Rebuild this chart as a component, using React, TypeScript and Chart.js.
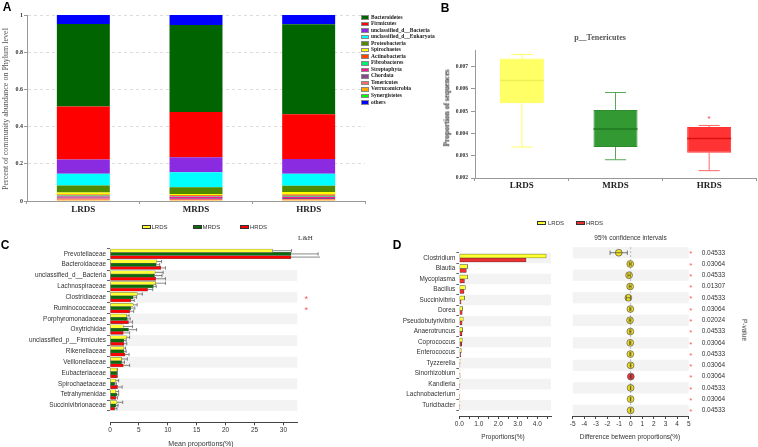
import React, { useEffect, useRef } from 'react';
import { Chart, registerables } from 'chart.js';
Chart.register(...registerables);

const SERIF = '"Liberation Serif", "Times New Roman", serif';
const SANS = '"Liberation Sans", Arial, sans-serif';

// ---------------- Panel A: phylum stacked bars ----------------
const phylumGroups = ['LRDS', 'MRDS', 'HRDS'];
const phylumNames = [
  'Bacteroidetes', 'Firmicutes', 'unclassified_d__Bacteria', 'unclassified_d__Eukaryota',
  'Proteobacteria', 'Spirochaetes', 'Actinobacteria', 'Fibrobacteres', 'Streptophyta',
  'Chordata', 'Tenericutes', 'Verrucomicrobia', 'Synergistetes', 'others',
];
const phylumColors = [
  '#006400', '#ff0000', '#8a2be2', '#00ffff', '#4f8a00', '#ffff00', '#ff4500',
  '#00ee76', '#ff1493', '#8b4789', '#ff6a6a', '#ffa500', '#00ff00', '#0000ff',
];
const bacteroidetes = [0.443, 0.468, 0.484];
const firmicutes = [0.285, 0.243, 0.24];
const unclBacteria = [0.077, 0.081, 0.079];
const unclEukaryota = [0.063, 0.08, 0.065];
const proteobacteria = [0.038, 0.036, 0.034];
const spirochaetes = [0.01, 0.007, 0.013];
const actinobacteria = [0.006, 0.005, 0.007];
const fibrobacteres = [0.005, 0.004, 0.005];
const streptophyta = [0.006, 0.007, 0.007];
const chordata = [0.005, 0.005, 0.005];
const tenericutesAbund = [0.0064, 0.0042, 0.0038];
const verrucomicrobia = [0.004, 0.003, 0.004];
const synergistetes = [0.003, 0.003, 0.003];
const othersPhyla = [0.048, 0.054, 0.05];
const phylumValues = [
  bacteroidetes, firmicutes, unclBacteria, unclEukaryota, proteobacteria, spirochaetes,
  actinobacteria, fibrobacteres, streptophyta, chordata, tenericutesAbund, verrucomicrobia,
  synergistetes, othersPhyla,
];
const phylumStackOrder = [12, 11, 10, 9, 8, 7, 6, 5, 4, 3, 2, 1, 0, 13];
const phylumTicks = [0, 0.2, 0.4, 0.6, 0.8, 1];

// ---------------- Panel B: Tenericutes box plot ----------------
const boxGroups = ['LRDS', 'MRDS', 'HRDS'];
const boxMin = [0.00339, 0.00282, 0.00233];
const boxQ1 = [0.00536, 0.00339, 0.00313];
const boxMedian = [0.00638, 0.0042, 0.00378];
const boxQ3 = [0.00737, 0.00506, 0.00429];
const boxMax = [0.00755, 0.00584, 0.00436];
const boxOutliers = [[], [], [0.00474]];
const boxTicks = [0.002, 0.003, 0.004, 0.005, 0.006, 0.007];
const boxFill = ['#ffff66', '#339933', '#ff3333'];
const boxBorder = ['#ffff44', '#2e8b2e', '#ff3030'];
const boxWhisker = ['#ffff66', '#55a855', '#ff6666'];
const boxMedianColor = ['#eeee55', '#1f7a1f', '#dd1010'];

// ---------------- Panel C: family mean proportions ----------------
const families = [
  'Prevotellaceae', 'Bacteroidaceae', 'unclassified_d__Bacteria', 'Lachnospiraceae',
  'Clostridiaceae', 'Ruminococcaceae', 'Porphyromonadaceae', 'Oxytrichidae',
  'unclassified_p__Firmicutes', 'Rikenellaceae', 'Veillonellaceae', 'Eubacteriaceae',
  'Spirochaetaceae', 'Tetrahymenidae', 'Succinivibrionaceae',
];
const famLRDS = [28.1, 8.1, 7.8, 7.9, 4.7, 4.0, 2.9, 2.3, 2.9, 2.4, 2.0, 1.2, 1.0, 1.0, 1.2];
const famLRDSErr = [31.4, 8.9, 9.2, 9.6, 5.6, 4.7, 3.3, 3.9, 3.4, 2.7, 3.0, 1.3, 1.5, 1.5, 2.2];
const famMRDS = [31.3, 8.0, 7.7, 7.5, 4.0, 3.6, 3.0, 3.2, 2.4, 2.4, 2.0, 1.2, 0.8, 1.2, 1.0];
const famMRDSErr = [36.0, 8.6, 9.0, 8.0, 4.6, 4.3, 3.5, 4.6, 2.8, 2.8, 2.5, 1.3, 1.1, 1.5, 1.4];
const famHRDS = [31.3, 8.8, 7.9, 6.5, 3.6, 3.4, 3.2, 2.3, 2.4, 2.6, 2.3, 1.2, 1.3, 1.0, 0.8];
const famHRDSErr = [37.2, 9.6, 9.6, 7.4, 4.2, 4.1, 3.9, 3.4, 2.9, 3.3, 3.4, 1.3, 2.1, 1.3, 1.2];
const famStars = ['', '', '', '', '*', '*', '', '', '', '', '', '', '', '', ''];
const famShaded = [2, 4, 6, 8, 10, 12, 14];
const famTicks = [0, 5, 10, 15, 20, 25, 30];

// ---------------- Panel D: genus LRDS vs HRDS ----------------
const genera = [
  'Clostridium', 'Blautia', 'Mycoplasma', 'Bacillus', 'Succinivibrio', 'Dorea',
  'Pseudobutyrivibrio', 'Anaerotruncus', 'Coprococcus', 'Enterococcus', 'Tyzzerella',
  'Sinorhizobium', 'Kandleria', 'Lachnobacterium', 'Turicibacter',
];
const genLRDS = [4.45, 0.43, 0.42, 0.31, 0.27, 0.17, 0.2, 0.17, 0.15, 0.1, 0.04, 0.03, 0.03, 0.03, 0.03];
const genHRDS = [3.42, 0.36, 0.26, 0.24, 0.09, 0.15, 0.14, 0.14, 0.12, 0.07, 0.03, 0.04, 0.02, 0.02, 0.02];
const genDiff = [-1.03, -0.04, -0.14, -0.05, -0.2, -0.03, -0.06, -0.03, -0.04, -0.03, -0.01, 0.01, -0.01, -0.01, -0.01];
const genCILow = [-1.78, -0.12, -0.24, -0.13, -0.38, -0.08, -0.13, -0.08, -0.09, -0.07, -0.04, -0.02, -0.03, -0.03, -0.03];
const genCIHigh = [-0.29, 0.04, -0.04, 0.03, -0.02, 0.02, 0.01, 0.02, 0.01, 0.01, 0.02, 0.04, 0.01, 0.01, 0.01];
const genPointColor = ['#f0e020', '#f0e020', '#f0e020', '#f0e020', '#f0e020', '#f0e020', '#f0e020', '#f0e020', '#f0e020', '#f0e020', '#f0e020', '#ee3030', '#f0e020', '#f0e020', '#f0e020'];
const genPValues = ['0.04533', '0.03064', '0.04533', '0.01307', '0.04533', '0.03064', '0.02024', '0.04533', '0.03064', '0.04533', '0.03064', '0.03064', '0.04533', '0.03064', '0.04533'];
const genShaded = [0, 2, 4, 6, 8, 10, 12, 14];
const propTicks = [0, 0.5, 1, 1.5, 2, 2.5, 3, 3.5, 4, 4.5];
const diffTicks = [-5, -4, -3, -2, -1, 0, 1, 2, 3, 4, 5];

// ---------------- helpers ----------------
const shadePlugin = (rows: number[], color: string) => ({
  id: 'shade',
  beforeDraw(chart: any) {
    const { ctx, chartArea } = chart;
    const ys = chart.scales.y;
    ctx.save();
    ctx.fillStyle = color;
    rows.forEach((r) => {
      const a = ys.getPixelForValue(r - 0.5);
      const b = ys.getPixelForValue(r + 0.5);
      ctx.fillRect(chartArea.left, Math.min(a, b), chartArea.right - chartArea.left, Math.abs(b - a));
    });
    ctx.restore();
  },
});

function ChartCanvas({ left, top, width, height, config }: any) {
  const ref = useRef<HTMLCanvasElement>(null);
  useEffect(() => {
    const chart = new Chart(ref.current as HTMLCanvasElement, config());
    return () => chart.destroy();
  }, []);
  return (
    <canvas
      ref={ref}
      width={width}
      height={height}
      style={{ position: 'absolute', left, top, width, height }}
    />
  );
}

function Txt({ x, y, children, size = 6.5, family = SANS, weight = 'normal', color = '#333', rotate = 0, align = 'center' }: any) {
  const tx = align === 'center' ? '-50%' : align === 'right' ? '-100%' : '0';
  return (
    <div
      style={{
        position: 'absolute', left: x, top: y, transform: `translate(${tx}, -50%) rotate(${rotate}deg)`,
        fontSize: size, fontFamily: family, fontWeight: weight, color, whiteSpace: 'nowrap', lineHeight: 1,
      }}
    >
      {children}
    </div>
  );
}

function Box({ x, y, w, h, color, border = '#333' }: any) {
  return (
    <div style={{ position: 'absolute', left: x, top: y, width: w, height: h, background: color, border: `0.6px solid ${border}`, boxSizing: 'border-box' }} />
  );
}

// ---------------- configs ----------------
const configA = () => ({
  type: 'bar',
  data: {
    labels: phylumGroups,
    datasets: phylumStackOrder.map((k) => ({
      label: phylumNames[k],
      data: phylumValues[k],
      backgroundColor: phylumColors[k],
      borderWidth: 0,
      categoryPercentage: 1,
      barPercentage: 0.47,
    })),
  },
  options: {
    responsive: false, animation: false, devicePixelRatio: 1,
    layout: { padding: { left: 0, top: 15, right: 5, bottom: 0 } },
    plugins: { legend: { display: false }, tooltip: { enabled: false } },
    scales: {
      x: {
        stacked: true,
        grid: { display: true, drawOnChartArea: false, offset: true, tickLength: 3, color: '#999' },
        border: { color: '#999' },
        ticks: { font: { family: SERIF, size: 9, weight: 'bold' }, color: '#222', padding: 0, maxRotation: 0 },
        afterFit: (s: any) => { s.height = 14; },
      },
      y: {
        stacked: true, min: 0, max: 1,
        afterBuildTicks: (s: any) => { s.ticks = phylumTicks.map((v) => ({ value: v })); },
        ticks: {
          font: { family: SERIF, size: 6, weight: 'bold' }, color: '#333', padding: 1,
          callback: (v: number) => (v === 0 || v === 1 ? String(v) : v.toFixed(1)),
        },
        grid: { color: '#dddddd', tickLength: 3, tickColor: '#999' },
        border: { color: '#999', dash: [3, 3] },
        afterFit: (s: any) => { s.width = 27; },
      },
    },
  },
});

const boxPlugin = {
  id: 'boxWhiskers',
  afterDatasetsDraw(chart: any) {
    const { ctx } = chart;
    const ys = chart.scales.y;
    const meta = chart.getDatasetMeta(0);
    meta.data.forEach((el: any, i: number) => {
      const x = el.x;
      const half = el.width / 2;
      const cap = half * 0.48;
      const pMin = ys.getPixelForValue(boxMin[i]);
      const pMax = ys.getPixelForValue(boxMax[i]);
      const pQ1 = ys.getPixelForValue(boxQ1[i]);
      const pQ3 = ys.getPixelForValue(boxQ3[i]);
      const pMed = ys.getPixelForValue(boxMedian[i]);
      ctx.save();
      ctx.strokeStyle = boxWhisker[i];
      ctx.lineWidth = 1;
      ctx.beginPath();
      ctx.moveTo(x, pQ3); ctx.lineTo(x, pMax);
      ctx.moveTo(x - cap, pMax); ctx.lineTo(x + cap, pMax);
      ctx.moveTo(x, pQ1); ctx.lineTo(x, pMin);
      ctx.moveTo(x - cap, pMin); ctx.lineTo(x + cap, pMin);
      ctx.stroke();
      ctx.strokeStyle = boxMedianColor[i];
      ctx.lineWidth = 1.5;
      ctx.beginPath();
      ctx.moveTo(x - half, pMed); ctx.lineTo(x + half, pMed);
      ctx.stroke();
      ctx.fillStyle = boxWhisker[i];
      ctx.font = `bold 8px ${SANS}`;
      ctx.textAlign = 'center';
      ctx.textBaseline = 'middle';
      boxOutliers[i].forEach((o: number) => {
        ctx.fillText('*', x, ys.getPixelForValue(o) + 1.5);
      });
      ctx.restore();
    });
  },
};

const configB = () => ({
  type: 'bar',
  data: {
    labels: boxGroups,
    datasets: [{
      data: boxQ1.map((q, i) => [q, boxQ3[i]]),
      backgroundColor: boxFill,
      borderColor: boxBorder,
      borderWidth: 1,
      borderSkipped: false,
      categoryPercentage: 1,
      barPercentage: 0.47,
    }],
  },
  plugins: [boxPlugin],
  options: {
    responsive: false, animation: false, devicePixelRatio: 1,
    layout: { padding: { left: 0, top: 20, right: 2, bottom: 0 } },
    plugins: { legend: { display: false }, tooltip: { enabled: false } },
    scales: {
      x: {
        grid: { display: true, drawOnChartArea: false, offset: true, tickLength: 3, color: '#999' },
        border: { color: '#999' },
        ticks: { font: { family: SERIF, size: 9, weight: 'bold' }, color: '#222', padding: -1, maxRotation: 0 },
        afterFit: (s: any) => { s.height = 22; },
      },
      y: {
        min: 0.002, max: 0.00775,
        afterBuildTicks: (s: any) => { s.ticks = boxTicks.map((v) => ({ value: v })); },
        ticks: {
          font: { family: SERIF, size: 5.5, weight: 'bold' }, color: '#333', padding: 3,
          callback: (v: number) => v.toFixed(3),
        },
        grid: { drawOnChartArea: false, tickLength: 4, color: '#999' },
        border: { color: '#999' },
        afterFit: (s: any) => { s.width = 35; },
      },
    },
  },
});

const errPlugin = {
  id: 'errBars',
  afterDatasetsDraw(chart: any) {
    const { ctx } = chart;
    const xs = chart.scales.x;
    chart.data.datasets.forEach((ds: any, di: number) => {
      if (!ds.errEnds) return;
      const meta = chart.getDatasetMeta(di);
      meta.data.forEach((el: any, i: number) => {
        const xe = xs.getPixelForValue(ds.errEnds[i]);
        ctx.save();
        ctx.strokeStyle = '#555';
        ctx.lineWidth = 0.7;
        ctx.beginPath();
        ctx.moveTo(el.x, el.y); ctx.lineTo(xe, el.y);
        ctx.moveTo(xe, el.y - 1.7); ctx.lineTo(xe, el.y + 1.7);
        ctx.stroke();
        ctx.restore();
      });
    });
    ctx.save();
    ctx.fillStyle = '#ff5555';
    ctx.font = `9px ${SANS}`;
    ctx.textAlign = 'center';
    ctx.textBaseline = 'middle';
    const ys = chart.scales.y;
    famStars.forEach((s, i) => {
      if (s) ctx.fillText(s, chart.chartArea.right + 9, ys.getPixelForValue(i) + 2);
    });
    ctx.restore();
  },
};

const rowAxis = (labels: string[], max: number, width: number) => ({
  type: 'linear', reverse: true, min: -0.5, max,
  afterBuildTicks: (s: any) => { s.ticks = labels.map((_, i) => ({ value: i })); },
  ticks: {
    autoSkip: false, font: { family: SANS, size: 6.4 }, color: '#333', padding: 1,
    callback: (v: number) => labels[v],
  },
  grid: { drawOnChartArea: false, tickLength: 3, color: '#666' },
  border: { display: false },
  afterFit: (s: any) => { s.width = width; },
});

const configC = () => ({
  type: 'bar',
  data: {
    datasets: [
      { label: 'LRDS', data: famLRDS.map((v, i) => ({ x: v, y: i })), errEnds: famLRDSErr, backgroundColor: '#ffff33' },
      { label: 'MRDS', data: famMRDS.map((v, i) => ({ x: v, y: i })), errEnds: famMRDSErr, backgroundColor: '#0b6b0b' },
      { label: 'HRDS', data: famHRDS.map((v, i) => ({ x: v, y: i })), errEnds: famHRDSErr, backgroundColor: '#ff0000' },
    ].map((d) => ({ ...d, borderColor: '#666', borderWidth: 0.5, barThickness: 3.2, borderSkipped: false })),
  },
  plugins: [shadePlugin(famShaded, '#f3f3f3'), errPlugin],
  options: {
    indexAxis: 'y',
    responsive: false, animation: false, devicePixelRatio: 1,
    layout: { padding: { left: 0, top: 12.5, right: 22.7, bottom: 0 } },
    plugins: { legend: { display: false }, tooltip: { enabled: false } },
    scales: {
      x: {
        type: 'linear', min: 0, max: 32.4,
        afterBuildTicks: (s: any) => { s.ticks = famTicks.map((v) => ({ value: v })); },
        ticks: { font: { family: SANS, size: 6.5 }, color: '#333', padding: 1, maxRotation: 0, minRotation: 0 },
        grid: { drawOnChartArea: false, tickLength: 3, color: '#444' },
        border: { color: '#444' },
        afterFit: (s: any) => { s.height = 24.7; },
      },
      y: rowAxis(families, 15.0, 110),
    },
  },
});

const configDL = () => ({
  type: 'bar',
  data: {
    datasets: [
      { label: 'LRDS', data: genLRDS.map((v, i) => ({ x: v, y: i })), backgroundColor: '#ffff33' },
      { label: 'HRDS', data: genHRDS.map((v, i) => ({ x: v, y: i })), backgroundColor: '#ee3030' },
    ].map((d) => ({ ...d, borderColor: '#333', borderWidth: 0.6, barThickness: 4, borderSkipped: false })),
  },
  plugins: [shadePlugin(genShaded, '#f3f3f3')],
  options: {
    indexAxis: 'y',
    responsive: false, animation: false, devicePixelRatio: 1,
    layout: { padding: { left: 0, top: 7.1, right: 4, bottom: 0 } },
    plugins: { legend: { display: false }, tooltip: { enabled: false } },
    scales: {
      x: {
        type: 'linear', min: 0, max: 4.7,
        afterBuildTicks: (s: any) => { s.ticks = propTicks.map((v) => ({ value: v })); },
        ticks: {
          font: { family: SANS, size: 6.5 }, color: '#333', padding: 1, maxRotation: 0, minRotation: 0,
          autoSkip: false,
          callback: (v: number) => (Number.isInteger(v) ? v.toFixed(1) : ''),
        },
        grid: { drawOnChartArea: false, tickLength: 3, color: '#444' },
        border: { color: '#444' },
        afterFit: (s: any) => { s.height = 31; },
      },
      y: rowAxis(genera, 14.5, 79.3),
    },
  },
});

const ciPlugin = {
  id: 'ci',
  beforeDatasetsDraw(chart: any) {
    const { ctx, chartArea } = chart;
    const x0 = chart.scales.x.getPixelForValue(0);
    ctx.save();
    ctx.strokeStyle = '#aaa';
    ctx.lineWidth = 0.8;
    ctx.setLineDash([2, 2]);
    ctx.beginPath();
    ctx.moveTo(x0, chartArea.top); ctx.lineTo(x0, chartArea.bottom);
    ctx.stroke();
    ctx.restore();
  },
  afterDatasetsDraw(chart: any) {
    const { ctx, chartArea } = chart;
    const xs = chart.scales.x;
    const ys = chart.scales.y;
    ctx.save();
    ctx.strokeStyle = '#444';
    ctx.lineWidth = 0.7;
    genCILow.forEach((lo, i) => {
      const y = ys.getPixelForValue(i);
      const a = xs.getPixelForValue(lo);
      const b = xs.getPixelForValue(genCIHigh[i]);
      ctx.beginPath();
      ctx.moveTo(a, y); ctx.lineTo(b, y);
      ctx.moveTo(a, y - 2.2); ctx.lineTo(a, y + 2.2);
      ctx.moveTo(b, y - 2.2); ctx.lineTo(b, y + 2.2);
      ctx.stroke();
    });
    ctx.textBaseline = 'middle';
    genPValues.forEach((p, i) => {
      const y = ys.getPixelForValue(i);
      ctx.fillStyle = '#ff5555';
      ctx.font = `8px ${SANS}`;
      ctx.textAlign = 'center';
      ctx.fillText('*', chartArea.right + 2, y + 1.5);
      ctx.fillStyle = '#333';
      ctx.font = `6.5px ${SANS}`;
      ctx.textAlign = 'left';
      ctx.fillText(p, chartArea.right + 13, y);
    });
    ctx.restore();
  },
};

const configDR = () => ({
  type: 'scatter',
  data: {
    datasets: [{
      data: genDiff.map((v, i) => ({ x: v, y: i })),
      pointRadius: 3.4,
      pointBackgroundColor: genPointColor,
      pointBorderColor: '#555',
      pointBorderWidth: 0.7,
    }],
  },
  plugins: [shadePlugin(genShaded, '#f3f3f3'), ciPlugin],
  options: {
    responsive: false, animation: false, devicePixelRatio: 1,
    layout: { padding: { left: 12.7, top: 7.1, right: 69.3, bottom: 0 } },
    plugins: { legend: { display: false }, tooltip: { enabled: false } },
    scales: {
      x: {
        type: 'linear', min: -5, max: 5,
        afterBuildTicks: (s: any) => { s.ticks = diffTicks.map((v) => ({ value: v })); },
        ticks: { font: { family: SANS, size: 6.5 }, color: '#333', padding: 1, maxRotation: 0, minRotation: 0, autoSkip: false },
        grid: { drawOnChartArea: false, tickLength: 3, color: '#444' },
        border: { color: '#444' },
        afterFit: (s: any) => { s.height = 31; },
      },
      y: { type: 'linear', reverse: true, min: -0.5, max: 14.5, display: false },
    },
  },
});

export default function App() {
  useEffect(() => {
    document.body.style.margin = '0';
  }, []);
  return (
    <div style={{ position: 'fixed', left: 0, top: 0, width: 758, height: 447, background: '#fff', overflow: 'hidden' }}>
      {/* Panel A */}
      <ChartCanvas left={0} top={0} width={370} height={215} config={configA} />
      <Txt x={7} y={7} size={12} weight="bold" color="#000">A</Txt>
      <Txt x={5.5} y={109} size={8} family={SERIF} color="#555" rotate={-90}>Percent of community abundance on Phylum level</Txt>
      {phylumNames.map((n, i) => (
        <React.Fragment key={n}>
          <Box x={360.5} y={15.2 + i * 6.54} w={8} h={4.6} color={phylumColors[i]} border="#888" />
          <Txt x={371} y={17.5 + i * 6.54} size={5.5} family={SERIF} weight="bold" color="#222" align="left">{n}</Txt>
        </React.Fragment>
      ))}

      {/* Panel B */}
      <ChartCanvas left={440} top={30} width={318} height={170} config={configB} />
      <Txt x={445} y={8} size={12} weight="bold" color="#000">B</Txt>
      <Txt x={600} y={38} size={8} family={SERIF} weight="bold" color="#555">p__Tenericutes</Txt>
      <Txt x={447} y={108} size={7.5} family={SERIF} weight="bold" color="#333" rotate={-90}>Proportion of sequences</Txt>

      {/* Panel C */}
      <ChartCanvas left={0} top={230} width={320} height={217} config={configC} />
      <Txt x={5} y={245} size={12} weight="bold" color="#000">C</Txt>
      <Box x={141.7} y={225} w={9} h={4.2} color="#ffff33" />
      <Txt x={151.5} y={227.3} size={6} align="left">LRDS</Txt>
      <Box x={192.7} y={225} w={9} h={4.2} color="#0b6b0b" />
      <Txt x={202.5} y={227.3} size={6} align="left">MRDS</Txt>
      <Box x={240.3} y={225} w={9} h={4.2} color="#ff0000" />
      <Txt x={250} y={227.3} size={6} align="left">HRDS</Txt>
      <Txt x={305.5} y={237.5} size={7} family={SERIF} color="#333">L&amp;H</Txt>
      <Txt x={201} y={442.5} size={7}>Mean proportions(%)</Txt>

      {/* Panel D */}
      <ChartCanvas left={380} top={240} width={175} height={207} config={configDL} />
      <ChartCanvas left={560} top={240} width={198} height={207} config={configDR} />
      <Txt x={397} y={245} size={12} weight="bold" color="#000">D</Txt>
      <Box x={536.7} y={220.7} w={9} h={4.2} color="#ffff33" />
      <Txt x={548} y={222.8} size={6} align="left">LRDS</Txt>
      <Box x={575.7} y={220.7} w={9} h={4.2} color="#ee3030" />
      <Txt x={586} y={222.8} size={6} align="left">HRDS</Txt>
      <Txt x={630.5} y={237.5} size={6.5}>95% confidence intervals</Txt>
      <Txt x={503} y={437} size={6.5}>Proportions(%)</Txt>
      <Txt x={630} y={437} size={6.5}>Difference between proportions(%)</Txt>
      <Txt x={744} y={330} size={6.5} rotate={90}>P-value</Txt>
    </div>
  );
}
